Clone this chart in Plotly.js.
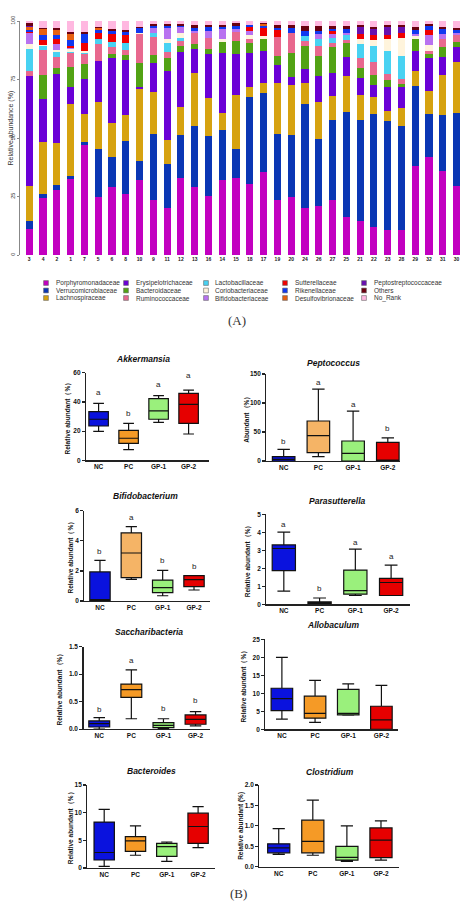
<!DOCTYPE html>
<html><head><meta charset="utf-8">
<script src="https://cdn.plot.ly/plotly-3.0.1.min.js"></script>
<style>html,body{margin:0;padding:0;background:#fff;} #chart{width:474px;height:906px;}</style>
</head><body><div id="chart"></div>
<script>
// ---------- DATA: (A) stacked relative abundance ----------
const sampleLabels = ['3','4','2','1','7','5','6','8','10','9','11','12','13','16','14','15','18','17','19','20','24','26','27','25','21','22','23','28','29','32','31','30'];
const families = ['Porphyromonadaceae','Verrucomicrobiaceae','Lachnospiraceae','Erysipelotrichaceae','Bacteroidaceae','Ruminococcaceae','Lactobacillaceae','Coriobacteriaceae','Bifidobacteriaceae','Sutterellaceae','Rikenellaceae','Desulfovibrionaceae','Peptostreptococcaceae','Others','No_Rank'];
const famColors = ['#C200C0','#0A36B4','#D6A210','#6A00D6','#52A214','#E8688E','#48D2F2','#FFF4DC','#B872F0','#F00000','#1038F0','#E86010','#6810B0','#6A0010','#FFB8E0'];

const porphyromonadaceae = [11.1,24.3,27.9,32.6,46.8,25.0,28.9,26.0,32.1,23.6,20.2,33.1,28.9,25.3,32.0,32.9,30.4,35.4,23.6,25.0,20.2,20.8,23.6,16.1,14.7,11.9,10.5,10.8,38.1,41.7,35.7,29.6];
const verrucomicrobiaceae = [3.5,1.6,2.0,1.3,1.3,20.4,13.1,22.9,8.0,28.0,18.5,18.1,26.3,25.6,21.5,12.6,37.0,33.9,28.2,26.4,44.4,28.8,34.2,44.8,42.8,48.4,46.8,44.4,34.2,18.6,24.0,31.0];
const lachnospiraceae = [15.1,22.6,17.9,30.8,12.1,20.0,14.5,10.8,31.0,18.0,10.5,12.1,22.5,16.4,7.0,22.9,4.3,4.1,21.9,21.3,9.1,15.7,10.3,15.6,10.9,7.4,4.3,7.8,6.5,10.0,17.3,21.9];
const erysipelotrichaceae = [46.7,18.1,29.6,7.0,14.9,17.7,27.9,23.7,0.9,12.3,29.6,23.3,10.2,18.5,25.7,17.5,14.5,13.9,7.5,3.5,5.8,11.2,9.6,8.0,7.1,5.0,10.0,9.0,8.5,13.8,7.5,6.5];
const bacteroidaceae = [0,10.4,2.4,8.8,6.6,0,1.5,1.9,10.2,3.6,5.6,2.9,2.1,2.2,5.0,5.6,4.3,4.9,3.9,10.0,9.8,8.6,11.1,6.3,4.6,4.1,3.2,1.1,4.9,1.8,4.5,2.2];
const ruminococcaceae = [2.3,10.6,4.7,6.0,4.1,7.1,3.1,2.3,12.1,7.8,2.2,2.1,4.7,4.6,0,3.7,1.7,0,8.2,8.8,2.2,4.2,2.0,1.1,4.0,5.8,2.6,2.0,0,1.4,3.2,2.8];
const lactobacillaceae = [9.2,1.7,2.4,0.4,0.7,2.0,1.9,3.2,0,1.4,3.9,1.3,0,0,0,0,0,0,0,0,2.1,3.0,2.1,2.1,6.1,6.9,9.9,10.1,0,0,0,0];
const coriobacteriaceae = [2.1,0.6,0.7,1.0,0.5,0,0,0,0.7,0,1.7,1.8,0,0,1.0,0,1.7,1.4,0,0,0,0,0,0,2.0,2.4,4.9,7.7,1.4,2.6,0,0];
const bifidobacteriaceae = [4.7,0,2.4,0.5,0,0,0,0,0,2.3,5.0,2.6,1.0,3.1,4.3,1.4,2.0,0,0,0,0,2.0,1.4,0.7,0,0,0,0,1.0,4.1,2.1,0.7];
const sutterellaceae = [0.8,1.8,2.1,1.0,3.8,2.8,3.6,3.4,0,0,0,0,0,0,0,0,1.4,3.6,2.8,0,0,0,1.4,0,2.1,2.0,1.8,2.1,0,2.1,0,0];
const rikenellaceae = [0.5,2.4,2.1,2.4,3.6,1.0,1.4,1.0,1.8,0.8,0.8,0.7,1.2,1.8,1.0,1.4,1.0,0.8,0.8,2.1,2.1,1.4,0.7,1.7,0,0,0,0,1.4,1.8,2.1,1.4];
const desulfovibrionaceae = [1.5,2.3,2.0,2.8,0,0.8,0,0,0,0,0,0,0,0,0,0,0,0.7,0,0,0,0,0,0,0,0,0,0,0,0,0,0];
const peptostreptococcaceae = [0.5,0,0,0,0,0,0,0,0,0,0,0,0,0,0,0,0,0,0,0,0,0,0,0,3.1,2.5,3.5,2.4,0,0,0,0];
const others = [1.0,0.7,0.6,0.7,0.7,0.7,0.8,1.0,0.7,0.8,0.6,0.6,1.4,1.0,0.7,1.0,0,0.6,1.4,1.4,2.1,2.0,1.4,1.4,0.7,1.0,0.8,0.8,1.4,0.8,1.1,1.1];
const noRank = [1.0,2.9,3.2,4.7,4.9,2.5,3.3,3.8,2.5,1.4,1.4,1.4,1.7,1.5,1.8,1.0,1.7,0.7,1.7,1.5,2.2,2.3,2.2,2.2,1.9,2.6,1.7,1.8,2.6,1.3,2.5,2.8];
const famValues = [porphyromonadaceae,verrucomicrobiaceae,lachnospiraceae,erysipelotrichaceae,bacteroidaceae,ruminococcaceae,lactobacillaceae,coriobacteriaceae,bifidobacteriaceae,sutterellaceae,rikenellaceae,desulfovibrionaceae,peptostreptococcaceae,others,noRank];

// ---------- DATA: (B) box plots ----------
const groups = ['NC','PC','GP-1','GP-2'];
const akkermansia   = {lower:[19.8,7.3,26,18],  q1:[23.5,11.6,28.1,25.3], median:[28.1,15.1,33.8,38.3], q3:[33.3,20.5,42.2,45.9], upper:[39,25.3,44.3,48.1]};
const peptococcus   = {lower:[0,7.5,0,0],       q1:[0,14.4,0,0],          median:[2.9,43.7,13,0.5],     q3:[7.5,69,34.5,32],     upper:[20.1,124,86,40]};
const bifidobacterium = {lower:[0,1.44,0.35,0.73], q1:[0.02,1.55,0.55,0.95], median:[0.1,3.19,0.89,1.42], q3:[1.93,4.52,1.39,1.68], upper:[2.7,4.94,2.04,1.68]};
const parasutterella  = {lower:[0.73,0,0.49,0.49], q1:[1.87,0.02,0.56,0.49], median:[3.1,0.05,0.76,1.21], q3:[3.3,0.13,1.9,1.44], upper:[4.01,0.35,3.06,2.18]};
const saccharibacteria = {lower:[0,0.19,0.01,0.06], q1:[0.04,0.58,0.03,0.09], median:[0.1,0.72,0.07,0.18], q3:[0.15,0.82,0.12,0.26], upper:[0.21,1.08,0.19,0.32]};
const allobaculum   = {lower:[2.8,1.9,3.9,0],  q1:[5.2,3.1,4.0,0],   median:[8.5,4.4,4.4,2.6],  q3:[11.4,9.2,11.1,6.4], upper:[20,13.6,12.6,12.2]};
const bacteroides   = {lower:[0.3,2.3,1.2,3.7], q1:[1.45,3.0,2.1,4.45], median:[2.8,4.9,3.86,7.5], q3:[8.3,5.66,4.45,9.9], upper:[10.6,7.6,4.7,11.1]};
const clostridium   = {lower:[0.30,0.28,0.13,0.16], q1:[0.34,0.34,0.16,0.22], median:[0.46,0.62,0.23,0.65], q3:[0.56,1.14,0.5,0.95], upper:[0.93,1.63,1.0,1.12]};

const akkLetters = ['a','b','a','a'];
const pepLetters = ['b','a','a','b'];
const bifLetters = ['b','a','b','b'];
const parLetters = ['a','b','a','a'];
const sacLetters = ['b','a','b','b'];

// ---------- LAYOUT SPEC ----------
const W = 474, H = 906;
const fx = p => p / W;
const fy = p => 1 - p / H;
const FONT = 'Liberation Sans, Arial, sans-serif';

const NCc = '#0A12DE', GP1c = '#9AF07C', GP2c = '#E60000';
const panels = [
  {title:'Akkermansia', ytitle:'Relative abundant（%）', stats:akkermansia, letters:akkLetters, letterY:[46.3,32.2,52,58.4],
   colors:[NCc,'#F59A26',GP1c,GP2c], x0:86, x1:209, yt:372.7, yb:460.3, xr:[-0.42,3.68], ymax:60, dtick:20, fmt:'', tx:143, ty:359, ytx:68},
  {title:'Peptococcus', ytitle:'Abundant（%）', stats:peptococcus, letters:pepLetters, letterY:[33,136,97,56],
   colors:[NCc,'#F5B466',GP1c,GP2c], x0:266.3, x1:400.3, yt:374, yb:461, xr:[-0.5,3.36], ymax:150, dtick:50, fmt:'', tx:333.7, ty:362.7, ytx:246.3},
  {title:'Bifidobacterium', ytitle:'Relative abundant（%）', stats:bifidobacterium, letters:bifLetters, letterY:[3.28,5.56,2.66,2.32],
   colors:[NCc,'#F5B466',GP1c,GP2c], x0:84.3, x1:210, yt:510.7, yb:601, xr:[-0.5,3.51], ymax:6, dtick:2, fmt:'', tx:145.7, ty:495.7, ytx:70.7},
  {title:'Parasutterella', ytitle:'Relative abundant（%）', stats:parasutterella, letters:parLetters, letterY:[4.44,0.88,3.41,2.67],
   colors:[NCc,'#F59A26',GP1c,GP2c], x0:266.3, x1:409.7, yt:514.3, yb:604.3, xr:[-0.49,3.52], ymax:5, dtick:1, fmt:'', tx:337, ty:500.7, ytx:248},
  {title:'Saccharibacteria', ytitle:'Relative abundant（%）', stats:saccharibacteria, letters:sacLetters, letterY:[0.36,1.25,0.37,0.52],
   colors:[NCc,'#F59A26',GP1c,GP2c], x0:83.5, x1:210, yt:646.7, yb:729.2, xr:[-0.49,3.45], ymax:1.5, dtick:0.5, fmt:'.1f', tx:149, ty:632.3, ytx:59.5},
  {title:'Allobaculum', ytitle:'Relative abundant（%）', stats:allobaculum, letters:null, letterY:null,
   colors:[NCc,'#F59A26',GP1c,GP2c], x0:265.3, x1:398, yt:639.3, yb:729.3, xr:[-0.5,3.5], ymax:25, dtick:5, fmt:'', tx:332.7, ty:625.3, ytx:244.3},
  {title:'Bacteroides', ytitle:'Relative abundant（%）', stats:bacteroides, letters:null, letterY:null,
   colors:[NCc,'#F59A26',GP1c,GP2c], x0:87.3, x1:215, yt:785, yb:868, xr:[-0.54,3.54], ymax:15, dtick:5, fmt:'', tx:151.7, ty:771.3, ytx:70.7},
  {title:'Clostridium', ytitle:'Relative abundant (%)', stats:clostridium, letters:null, letterY:null,
   colors:[NCc,'#F59A26',GP1c,GP2c], x0:259.3, x1:398.7, yt:785, yb:866.7, xr:[-0.57,3.52], ymax:2.0, dtick:0.5, fmt:'.1f', tx:329.7, ty:771.7, ytx:241}
];

const traces = [];
const annotations = [];
const shapes = [];

// (A) stacked bars
families.forEach((name, i) => {
  traces.push({type:'bar', x:sampleLabels, y:famValues[i], name:name, xaxis:'x', yaxis:'y',
    marker:{color:famColors[i], line:{width:0}}, showlegend:false, hoverinfo:'skip'});
});

const layout = {
  width:W, height:H, margin:{l:0,r:0,t:0,b:0}, paper_bgcolor:'#fff', plot_bgcolor:'rgba(0,0,0,0)',
  barmode:'stack', bargap:0.48, showlegend:false, font:{family:FONT, color:'#222'},
  xaxis:{domain:[fx(20), fx(463.5)], range:[-0.67, 31.5], type:'category', anchor:'y',
    showline:false, ticks:'', showgrid:false, zeroline:false, fixedrange:true,
    tickfont:{family:FONT, size:5, color:'#222', weight:'bold'}},
  yaxis:{domain:[fy(255), fy(21)], range:[0,100], tickvals:[0,25,50,75,100], anchor:'x',
    showline:true, linecolor:'#888', linewidth:1, ticks:'outside', ticklen:2, tickcolor:'#888',
    tickangle:-90, showgrid:false, zeroline:false, fixedrange:true,
    tickfont:{family:FONT, size:5.5, color:'#333'}}
};

annotations.push({xref:'paper', yref:'paper', x:fx(10.5), y:fy(128), text:'Relative abundance (%)', textangle:-90,
  showarrow:false, xanchor:'center', yanchor:'middle', font:{family:FONT, size:7, color:'#333'}});

// legend (manual, column-wise like the figure)
const legSwatchX = [46, 126, 206, 285, 364];
const legTextX = [53.5, 133.5, 213, 292.5, 371.5];
const legRowY = [283, 290.5, 298];
families.forEach((name, i) => {
  const col = Math.floor(i / 3), row = i % 3;
  const cx = legSwatchX[col], cy = legRowY[row], s = 2.4;
  shapes.push({type:'rect', xref:'paper', yref:'paper', x0:fx(cx-s), x1:fx(cx+s), y0:fy(cy+s), y1:fy(cy-s),
    fillcolor:famColors[i], line:{color:'#666', width:0.6}});
  annotations.push({xref:'paper', yref:'paper', x:fx(legTextX[col]), y:fy(cy), text:name, showarrow:false,
    xanchor:'left', yanchor:'middle', font:{family:FONT, size:6.5, color:'#333'}});
});

annotations.push({xref:'paper', yref:'paper', x:fx(237), y:fy(321), text:'(A)', showarrow:false,
  xanchor:'center', yanchor:'middle', font:{family:'Liberation Serif, DejaVu Serif, serif', size:13, color:'#333'}});
annotations.push({xref:'paper', yref:'paper', x:fx(239), y:fy(893), text:'(B)', showarrow:false,
  xanchor:'center', yanchor:'middle', font:{family:'Liberation Serif, DejaVu Serif, serif', size:13, color:'#333'}});

// (B) box panels
panels.forEach((p, k) => {
  const n = k + 2;
  groups.forEach((g, j) => {
    traces.push({type:'box', x:[g], q1:[p.stats.q1[j]], median:[p.stats.median[j]], q3:[p.stats.q3[j]],
      lowerfence:[p.stats.lower[j]], upperfence:[p.stats.upper[j]],
      xaxis:'x'+n, yaxis:'y'+n, fillcolor:p.colors[j], line:{color:'#111', width:1.2},
      width:0.65, whiskerwidth:0.55, boxpoints:false, showlegend:false, hoverinfo:'skip'});
  });
  layout['xaxis'+n] = {domain:[fx(p.x0), fx(p.x1)], range:p.xr, type:'category', categoryorder:'array', categoryarray:groups,
    anchor:'y'+n, showline:true, linecolor:'#222', linewidth:1.2, ticks:'', showgrid:false, zeroline:false, fixedrange:true,
    tickfont:{family:FONT, size:6.5, color:'#111', weight:'bold'}};
  layout['yaxis'+n] = {domain:[fy(p.yb), fy(p.yt)], range:[0, p.ymax], dtick:p.dtick, tick0:0, tickformat:p.fmt,
    anchor:'x'+n, showline:true, linecolor:'#222', linewidth:1.2, ticks:'outside', ticklen:3, tickwidth:1.2, tickcolor:'#222',
    showgrid:false, zeroline:false, fixedrange:true, tickfont:{family:FONT, size:6.5, color:'#111', weight:'bold'}};
  annotations.push({xref:'paper', yref:'paper', x:fx(p.tx), y:fy(p.ty), text:'<b><i>'+p.title+'</i></b>', showarrow:false,
    xanchor:'center', yanchor:'middle', font:{family:FONT, size:8.5, color:'#111'}});
  annotations.push({xref:'paper', yref:'paper', x:fx(p.ytx), y:fy((p.yt+p.yb)/2), text:'<b>'+p.ytitle+'</b>', textangle:-90,
    showarrow:false, xanchor:'center', yanchor:'middle', font:{family:FONT, size:6.5, color:'#111'}});
  if (p.letters) {
    p.letters.forEach((L, j) => {
      annotations.push({xref:'x'+n, yref:'y'+n, x:groups[j], y:p.letterY[j], text:L, showarrow:false,
        xanchor:'center', yanchor:'middle', font:{family:FONT, size:8, color:'#222'}});
    });
  }
});

layout.annotations = annotations;
layout.shapes = shapes;

Plotly.newPlot('chart', traces, layout, {staticPlot:true, displayModeBar:false});
</script></body></html>
